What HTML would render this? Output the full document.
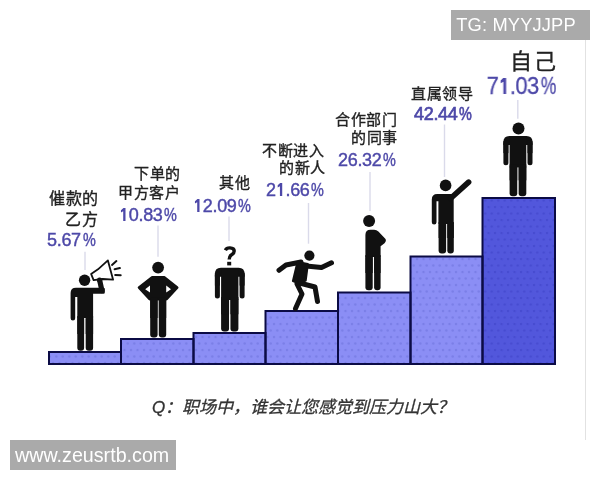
<!DOCTYPE html>
<html lang="zh-CN"><head><meta charset="utf-8"><style>
html,body{margin:0;padding:0;background:#fff;}
body{width:600px;height:480px;position:relative;overflow:hidden;font-family:"Liberation Sans",sans-serif;}
svg{position:absolute;left:0;top:0;}
.c,.p{position:absolute;white-space:nowrap;line-height:1;will-change:transform;}
.p{letter-spacing:-0.3px;-webkit-text-stroke:0.42px #4d48a8;}
.pct{display:inline-block;transform:scaleX(0.8);transform-origin:left center;margin-left:0.1em;margin-right:-0.17em;}
.one{display:inline-block;position:relative;color:transparent;-webkit-text-stroke:0;}
.one::before{content:'';position:absolute;left:0;width:0.556em;bottom:0.1535em;height:0.735em;background:#4d48a8;clip-path:polygon(44.5% 0%,65% 0%,65% 100%,42% 100%,42% 24%,19.5% 33%,19.5% 17.5%);}
.c{letter-spacing:0.6px;-webkit-text-stroke:0.35px #222;}
.q{will-change:transform;position:absolute;left:151.6px;top:399.1px;-webkit-text-stroke:0.3px #333;font-size:17px;line-height:1;font-style:italic;color:#333;white-space:nowrap;}
.wm{will-change:transform;position:absolute;background:#aaa;color:#fff;white-space:nowrap;font-size:18px;line-height:31px;height:30px;}
</style></head><body>
<svg width="600" height="480" viewBox="0 0 600 480">
<defs><pattern id="dots" x="0" y="0" width="6.5" height="13" patternUnits="userSpaceOnUse"><circle cx="4.25" cy="5.5" r="1.2" fill="#6c70da" opacity="0.55"/><circle cx="1.0" cy="12" r="1.2" fill="#6c70da" opacity="0.55"/><circle cx="7.5" cy="12" r="1.2" fill="#6c70da" opacity="0.55"/><circle cx="1.0" cy="-1" r="1.2" fill="#6c70da" opacity="0.55"/></pattern><pattern id="dots2" x="0" y="0" width="6.5" height="13" patternUnits="userSpaceOnUse"><circle cx="4.25" cy="5.5" r="1.2" fill="#3c40c4" opacity="0.5"/><circle cx="1.0" cy="12" r="1.2" fill="#3c40c4" opacity="0.5"/><circle cx="7.5" cy="12" r="1.2" fill="#3c40c4" opacity="0.5"/><circle cx="1.0" cy="-1" r="1.2" fill="#3c40c4" opacity="0.5"/></pattern><filter id="bl"><feGaussianBlur stdDeviation="0.5"/></filter></defs>
<rect x="49" y="352" width="72" height="12" fill="#8b8ef5"/>
<rect x="121" y="339" width="72.5" height="25" fill="#8b8ef5"/>
<rect x="193.5" y="333" width="72.0" height="31" fill="#8b8ef5"/>
<rect x="265.5" y="311" width="72.5" height="53" fill="#8b8ef5"/>
<rect x="338" y="292.5" width="72.5" height="71.5" fill="#8b8ef5"/>
<rect x="410.5" y="256.5" width="72.0" height="107.5" fill="#8b8ef5"/>
<rect x="482.5" y="198" width="72.5" height="166" fill="#5257dc"/>
<clipPath id="c1"><rect x="49" y="352" width="72" height="12"/><rect x="121" y="339" width="72.5" height="25"/><rect x="193.5" y="333" width="72.0" height="31"/><rect x="265.5" y="311" width="72.5" height="53"/><rect x="338" y="292.5" width="72.5" height="71.5"/><rect x="410.5" y="256.5" width="72.0" height="107.5"/></clipPath><clipPath id="c2"><rect x="482.5" y="198" width="72.5" height="166"/></clipPath>
<g clip-path="url(#c1)"><rect x="40" y="240" width="450" height="130" fill="url(#dots)" filter="url(#bl)"/></g>
<g clip-path="url(#c2)"><rect x="470" y="190" width="95" height="180" fill="url(#dots2)" filter="url(#bl)"/></g>
<rect x="49" y="352" width="72" height="12" fill="none" stroke="#0b0b45" stroke-width="2"/>
<rect x="121" y="339" width="72.5" height="25" fill="none" stroke="#0b0b45" stroke-width="2"/>
<rect x="193.5" y="333" width="72.0" height="31" fill="none" stroke="#0b0b45" stroke-width="2"/>
<rect x="265.5" y="311" width="72.5" height="53" fill="none" stroke="#0b0b45" stroke-width="2"/>
<rect x="338" y="292.5" width="72.5" height="71.5" fill="none" stroke="#0b0b45" stroke-width="2"/>
<rect x="410.5" y="256.5" width="72.0" height="107.5" fill="none" stroke="#0b0b45" stroke-width="2"/>
<rect x="482.5" y="198" width="72.5" height="166" fill="none" stroke="#0b0b45" stroke-width="2"/>
<line x1="85" y1="251.7" x2="85" y2="270" stroke="#dadaea" stroke-width="1.4"/>
<line x1="158" y1="225.4" x2="158" y2="256.7" stroke="#dadaea" stroke-width="1.4"/>
<line x1="229" y1="216.5" x2="229" y2="241" stroke="#dadaea" stroke-width="1.4"/>
<line x1="308.5" y1="203" x2="308.5" y2="243.7" stroke="#dadaea" stroke-width="1.4"/>
<line x1="370" y1="172" x2="370" y2="211" stroke="#dadaea" stroke-width="1.4"/>
<line x1="444.5" y1="124.5" x2="444.5" y2="177" stroke="#dadaea" stroke-width="1.4"/>
<line x1="517.8" y1="100" x2="517.8" y2="118.7" stroke="#dadaea" stroke-width="1.4"/>
<circle cx="84.6" cy="280.2" r="5.7" fill="#111"/>
<path d="M70.6,318.3 L70.6,293 Q70.6,287.7 76,287.7 L103.5,287.7 Q104.8,287.7 104.8,289 L104.8,292.5 Q104.8,293.8 103.5,293.8 L93.1,293.8 L93.1,318 L77.3,318 L77.3,297 L75.2,297 L75.2,318.3 Q75.2,320.6 72.9,320.6 Q70.6,320.6 70.6,318.3 Z" fill="#111"/>
<rect x="77.3" y="316" width="6.8" height="34.8" rx="3" fill="#111"/><rect x="77.3" y="316" width="6.8" height="18" fill="#111"/>
<rect x="85.7" y="316" width="7.4" height="34.8" rx="3" fill="#111"/><rect x="85.7" y="316" width="7.4" height="18" fill="#111"/>
<path d="M101.9,290.5 L99.6,280" fill="none" stroke="#111" stroke-width="5.2" stroke-linecap="round"/>
<path d="M91.1,273.9 L98,269.3 L107.9,260.4 L113.1,279.7 L102.7,279 L93.6,280.2 Z" fill="#fff" stroke="#111" stroke-width="1.8" stroke-linejoin="round"/>
<circle cx="99.6" cy="280" r="2.6" fill="#111"/>
<path d="M112,264.9 L116.4,261.1 M114.6,269.3 L119.9,268.1 M115.2,275.1 L120.7,275.3" stroke="#111" stroke-width="2" stroke-linecap="round"/>
<circle cx="158.1" cy="267.6" r="5.9" fill="#111"/>
<path d="M152,277.6 L164.4,277.6 L177,287.6 L166.4,299 L149.8,299 L139.2,287.6 Z" fill="#111" stroke="#111" stroke-width="3" stroke-linejoin="round"/>
<path d="M150,285.6 L145.2,289.2 L150,292.6 Z M166.2,285.6 L171,289.2 L166.2,292.6 Z" fill="#fff"/>
<rect x="150.2" y="298" width="7.4" height="39.5" rx="3" fill="#111"/><rect x="150.2" y="298" width="7.4" height="20" fill="#111"/>
<rect x="158.8" y="298" width="7.4" height="39.5" rx="3" fill="#111"/><rect x="158.8" y="298" width="7.4" height="20" fill="#111"/>
<path d="M225.4,250.2 Q226.5,247.8 230,247.9 Q234.2,248.1 234.2,251 Q234.2,253.4 231.3,255 Q229.2,256.3 229.2,259.6" fill="none" stroke="#111" stroke-width="3.4" stroke-linecap="butt" stroke-linejoin="round"/>
<rect x="227.2" y="261.8" width="4" height="3.6" fill="#111"/>
<path d="M214.9,273.7 Q214.9,267.7 220.9,267.7 L238.6,267.7 Q244.6,267.7 244.6,273.7 L244.6,276.7 L214.9,276.7 Z" fill="#111"/>
<rect x="214.9" y="272.7" width="5" height="25.69999999999999" rx="2.5" fill="#111"/>
<rect x="214.9" y="272.7" width="5" height="12.849999999999994" fill="#111"/>
<rect x="239.6" y="272.7" width="5" height="25.69999999999999" rx="2.5" fill="#111"/>
<rect x="239.6" y="272.7" width="5" height="12.849999999999994" fill="#111"/>
<rect x="221.1" y="269.7" width="17.30000000000001" height="30.30000000000001" fill="#111"/>
<rect x="221.1" y="297" width="7.9500000000000055" height="34.5" rx="3" fill="#111"/>
<rect x="221.1" y="297" width="7.9500000000000055" height="17.25" fill="#111"/>
<rect x="230.45000000000002" y="297" width="7.9500000000000055" height="34.5" rx="3" fill="#111"/>
<rect x="230.45000000000002" y="297" width="7.9500000000000055" height="17.25" fill="#111"/>
<circle cx="309.4" cy="255.6" r="5.1" fill="#111"/>
<path d="M301,262 L286,265 L279,270.3 M306,266 L321.5,267.5 L331.5,262.8 M297,284 L302,294 L295.5,308.5 M301.5,283.5 L315,287 L317.5,301.5" fill="none" stroke="#111" stroke-width="5" stroke-linecap="round" stroke-linejoin="round"/>
<path d="M297.5,262.2 L307.8,264.2 L305.6,280.5 L299,283.5 L293,281 Z" fill="#111" stroke="#111" stroke-width="2.2" stroke-linejoin="round"/>
<circle cx="369.1" cy="221" r="6" fill="#111"/>
<path d="M365.4,257 L365.4,235 Q365.4,229.8 370.5,229.8 L374.2,229.8 Q376.6,229.8 378.4,231.4 L385.3,238.8 Q386.8,241 384.5,243.2 L380.6,246.2 L380.6,257 Z" fill="#111"/>
<rect x="365.4" y="255" width="7.3" height="35.2" rx="3" fill="#111"/><rect x="365.4" y="255" width="7.3" height="18" fill="#111"/>
<rect x="374.1" y="255" width="6.5" height="35.2" rx="3" fill="#111"/><rect x="374.1" y="255" width="6.5" height="18" fill="#111"/>
<circle cx="445.6" cy="185.4" r="5.8" fill="#111"/>
<path d="M431.8,222.3 L431.8,199.5 Q431.8,194 437.3,194 L453.7,194 L453.7,224 L438.4,224 L438.4,201.3 L436.5,201.3 L436.5,222.3 Q436.5,224.6 434.15,224.6 Q431.8,224.6 431.8,222.3 Z" fill="#111"/>
<rect x="438.6" y="222" width="7.5" height="31.5" rx="3" fill="#111"/><rect x="438.6" y="222" width="7.5" height="16" fill="#111"/>
<rect x="447.3" y="222" width="6.5" height="31.5" rx="3" fill="#111"/><rect x="447.3" y="222" width="6.5" height="16" fill="#111"/>
<path d="M450.5,198.5 L468.6,182.2" stroke="#111" stroke-width="5.6" stroke-linecap="round"/>
<circle cx="518.5" cy="128.6" r="6" fill="#111"/>
<path d="M503.4,141.9 Q503.4,135.9 509.4,135.9 L526.5,135.9 Q532.5,135.9 532.5,141.9 L532.5,144.9 L503.4,144.9 Z" fill="#111"/>
<rect x="503.4" y="140.9" width="5" height="24.400000000000006" rx="2.5" fill="#111"/>
<rect x="503.4" y="140.9" width="5" height="12.200000000000003" fill="#111"/>
<rect x="527.5" y="140.9" width="5" height="24.400000000000006" rx="2.5" fill="#111"/>
<rect x="527.5" y="140.9" width="5" height="12.200000000000003" fill="#111"/>
<rect x="509.59999999999997" y="137.9" width="16.69999999999999" height="29.5" fill="#111"/>
<rect x="509.59999999999997" y="164.4" width="7.649999999999994" height="31.900000000000006" rx="3" fill="#111"/>
<rect x="509.59999999999997" y="164.4" width="7.649999999999994" height="15.950000000000003" fill="#111"/>
<rect x="518.65" y="164.4" width="7.649999999999994" height="31.900000000000006" rx="3" fill="#111"/>
<rect x="518.65" y="164.4" width="7.649999999999994" height="15.950000000000003" fill="#111"/>
<line x1="585.5" y1="10" x2="585.5" y2="440" stroke="#e2e2e2" stroke-width="1"/>
</svg>
<div class="c" style="right:501.30px;top:191.30px;font-size:16px;color:#222;">催款的</div>
<div class="c" style="right:501.94px;top:211.80px;font-size:16px;color:#222;">乙方</div>
<div class="p" style="right:504.50px;top:231.24px;font-size:18px;color:#4d48a8;">5.67<span class="pct">%</span></div>
<div class="c" style="right:419.64px;top:166.20px;font-size:15px;color:#222;">下单的</div>
<div class="c" style="right:420.00px;top:184.54px;font-size:15px;color:#222;">甲方客户</div>
<div class="p" style="right:423.16px;top:206.26px;font-size:18px;color:#4d48a8;"><span class="one">1</span>0.83<span class="pct">%</span></div>
<div class="c" style="right:349.97px;top:175.09px;font-size:15px;color:#222;">其他</div>
<div class="p" style="right:349.40px;top:196.79px;font-size:18px;color:#4d48a8;"><span class="one">1</span>2.09<span class="pct">%</span></div>
<div class="c" style="right:275.12px;top:142.74px;font-size:15px;color:#222;">不断进入</div>
<div class="c" style="right:274.48px;top:159.90px;font-size:15px;color:#222;">的新人</div>
<div class="p" style="right:275.52px;top:181.10px;font-size:18px;color:#4d48a8;">2<span class="one">1</span>.66<span class="pct">%</span></div>
<div class="c" style="right:202.40px;top:111.98px;font-size:15px;color:#222;">合作部门</div>
<div class="c" style="right:202.48px;top:129.50px;font-size:15px;color:#222;">的同事</div>
<div class="p" style="right:203.92px;top:151.10px;font-size:18px;color:#4d48a8;">26.32<span class="pct">%</span></div>
<div class="c" style="right:126.75px;top:85.94px;font-size:15px;color:#222;">直属领导</div>
<div class="p" style="right:128.10px;top:104.74px;font-size:18px;color:#4d48a8;-webkit-text-stroke:0.65px #4d48a8;">42.44<span class="pct">%</span></div>
<div class="c" style="right:42.16px;top:50.54px;font-size:22px;color:#222;letter-spacing:2px;">自己</div>
<div class="p" style="right:43.90px;top:74.98px;font-size:23px;color:#4d48a8;letter-spacing:-0.6px;transform:scaleX(0.95);transform-origin:right center;-webkit-text-stroke:0.3px #4d48a8;">7<span class="one">1</span>.03<span class="pct">%</span></div>
<div class="q">Q：职场中，谁会让您感觉到压力山大？</div>
<div class="wm" style="left:451px;top:10px;width:139px;padding-left:5.3px;box-sizing:border-box;font-size:18.3px;letter-spacing:0.15px;line-height:30.6px;">TG: MYYJJPP</div>
<div class="wm" style="left:10px;top:440px;width:166px;padding-left:5px;box-sizing:border-box;font-size:19.7px;">www.zeusrtb.com</div>
</body></html>
